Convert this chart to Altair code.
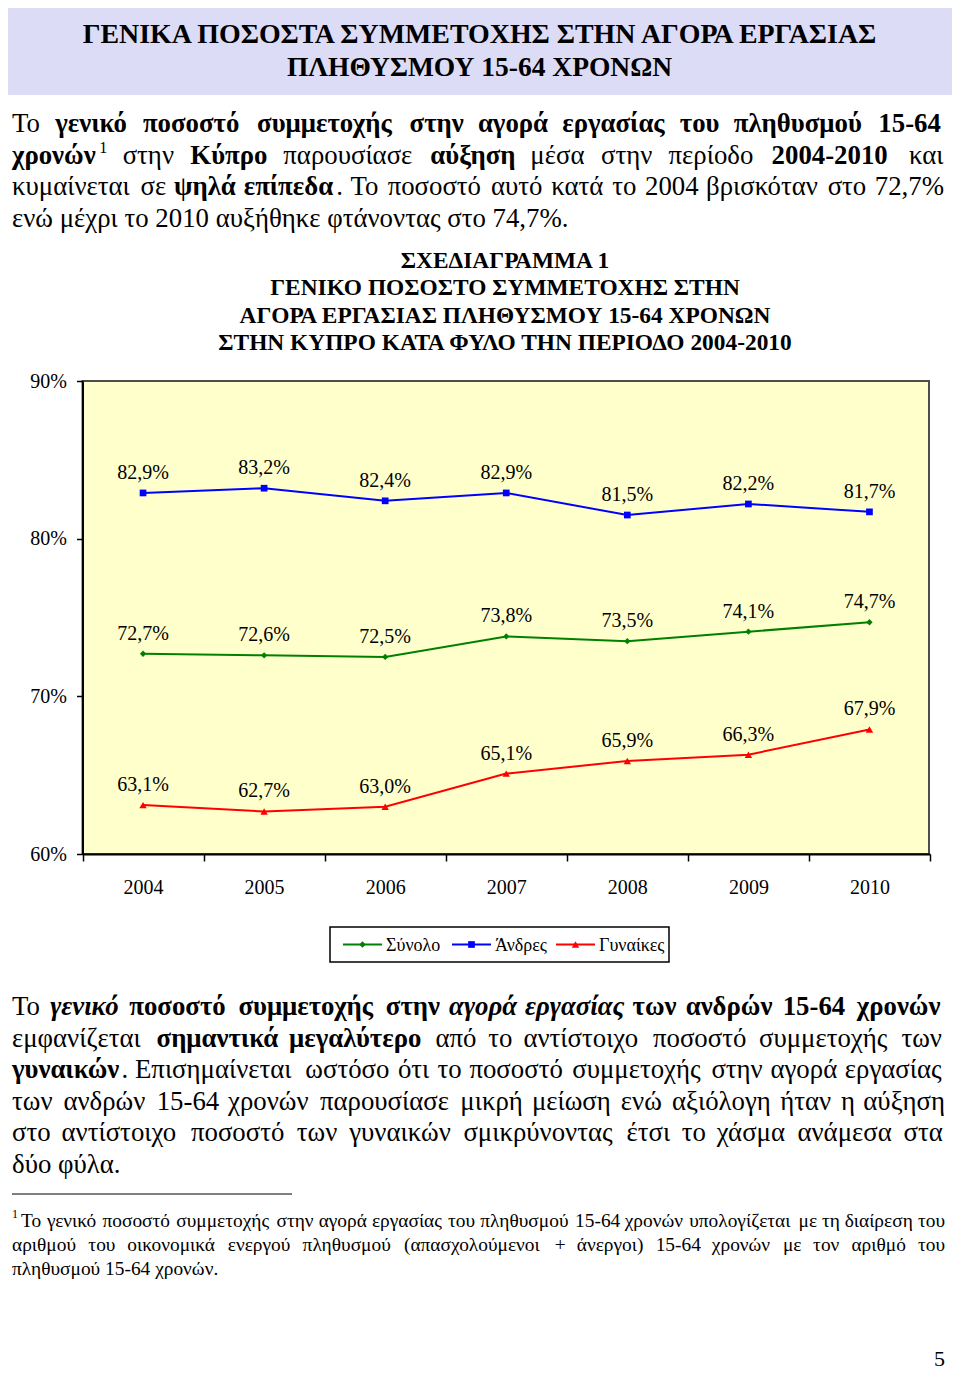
import unicodedata
import pandas as pd
import altair as alt

# ---------------- data ----------------
YEARS = ["2004", "2005", "2006", "2007", "2008", "2009", "2010"]
SERIES = ["Σύνολο", "Άνδρες", "Γυναίκες"]
TOTAL = [72.7, 72.6, 72.5, 73.8, 73.5, 74.1, 74.7]
MEN = [82.9, 83.2, 82.4, 82.9, 81.5, 82.2, 81.7]
WOMEN = [63.1, 62.7, 63.0, 65.1, 65.9, 66.3, 67.9]
Y_TICKS = [60, 70, 80, 90]

HEADER_LINES = ["ΓΕΝΙΚΑ ΠΟΣΟΣΤΑ ΣΥΜΜΕΤΟΧΗΣ ΣΤΗΝ ΑΓΟΡΑ ΕΡΓΑΣΙΑΣ",
                "ΠΛΗΘΥΣΜΟΥ 15-64 ΧΡΟΝΩΝ"]
CHART_TITLE = ["ΣΧΕΔΙΑΓΡΑΜΜΑ 1",
               "ΓΕΝΙΚΟ ΠΟΣΟΣΤΟ ΣΥΜΜΕΤΟΧΗΣ ΣΤΗΝ",
               "ΑΓΟΡΑ ΕΡΓΑΣΙΑΣ ΠΛΗΘΥΣΜΟΥ 15-64 ΧΡΟΝΩΝ",
               "ΣΤΗΝ ΚΥΠΡΟ ΚΑΤΑ ΦΥΛΟ ΤΗΝ ΠΕΡΙΟΔΟ 2004-2010"]

# text runs: (text, emphasis)  r = regular, b = bold, bi = bold italic, sup = superscript
PARA1 = [
    [("Το ", "r"), ("γενικό ποσοστό συμμετοχής στην αγορά εργασίας του πληθυσμού 15-64", "b")],
    [("χρονών", "b"), ("1", "sup"), (" στην ", "r"), ("Κύπρο", "b"), (" παρουσίασε ", "r"),
     ("αύξηση", "b"), (" μέσα στην περίοδο ", "r"), ("2004-2010", "b"), (" και", "r")],
    [("κυμαίνεται σε ", "r"), ("ψηλά επίπεδα", "b"),
     (". Το ποσοστό αυτό κατά το 2004 βρισκόταν στο 72,7%", "r")],
    [("ενώ μέχρι το 2010 αυξήθηκε φτάνοντας στο 74,7%.", "r")],
]
PARA2 = [
    [("Το ", "r"), ("γενικό", "bi"), (" ποσοστό συμμετοχής στην ", "b"), ("αγορά εργασίας", "bi"),
     (" των ανδρών 15-64 χρονών", "b")],
    [("εμφανίζεται ", "r"), ("σημαντικά μεγαλύτερο", "b"),
     (" από το αντίστοιχο ποσοστό συμμετοχής των", "r")],
    [("γυναικών", "b"), (". Επισημαίνεται ωστόσο ότι το ποσοστό συμμετοχής στην αγορά εργασίας", "r")],
    [("των ανδρών 15-64 χρονών παρουσίασε μικρή μείωση ενώ αξιόλογη ήταν η αύξηση", "r")],
    [("στο αντίστοιχο ποσοστό των γυναικών σμικρύνοντας έτσι το χάσμα ανάμεσα στα", "r")],
    [("δύο φύλα.", "r")],
]
FOOT_MARK = "1"
FOOTNOTE = [
    [("Το γενικό ποσοστό συμμετοχής στην αγορά εργασίας του πληθυσμού 15-64 χρονών υπολογίζεται με τη διαίρεση του", "r")],
    [("αριθμού του οικονομικά ενεργού πληθυσμού (απασχολούμενοι + άνεργοι) 15-64 χρονών με τον αριθμό του", "r")],
    [("πληθυσμού 15-64 χρονών.", "r")],
]
PAGE_NUMBER = "5"

# ---------------- layout ----------------
FONT = "Liberation Serif"
OX, OY = 8, 8
W, H = 944, 1365
K = 1.0

GREEK_W = {'α': .53, 'β': .50, 'γ': .46, 'δ': .50, 'ε': .43, 'ζ': .43, 'η': .50, 'θ': .50,
           'ι': .28, 'κ': .50, 'λ': .50, 'μ': .56, 'ν': .47, 'ξ': .44, 'ο': .50, 'π': .56,
           'ρ': .50, 'σ': .54, 'ς': .43, 'τ': .44, 'υ': .50, 'φ': .64, 'χ': .48, 'ψ': .68, 'ω': .68}
OTHER_W = {' ': .25, '.': .25, ',': .25, '%': .833, '-': .333, '(': .333, ')': .333, '+': .564}
UPPER_W = {'Ι': .33, 'Μ': .89, 'Τ': .61}
STYLE_F = {'r': 1.0, 'b': 1.05, 'bi': 1.0, 'sup': 1.0}


def char_w(c):
    b = unicodedata.normalize('NFD', c)[0]
    if b in GREEK_W:
        return GREEK_W[b]
    if b.isdigit():
        return .5
    if b in OTHER_W:
        return OTHER_W[b]
    if b.isupper():
        return UPPER_W.get(b, .70)
    return .5


def piece_size(style, size):
    return round(size * 0.6, 1) if style == "sup" else size


def text_w(s, style, size):
    return K * piece_size(style, size) * STYLE_F[style] * sum(char_w(c) for c in s)


rows = []


def add(x, y, t, fs, style, align="left"):
    rows.append({"x": x - OX, "y": y - OY, "t": t, "fs": fs, "style": style, "align": align})


def words_of(runs):
    words, cur = [], []
    for text, style in runs:
        parts = text.split(" ")
        for i, p in enumerate(parts):
            if i > 0 and cur:
                words.append(cur)
                cur = []
            if p:
                cur.append((p, style))
    if cur:
        words.append(cur)
    return words


def layout_line(runs, x0, x1, base, size, justify):
    words = words_of(runs)
    widths = [sum(text_w(p, s, size) for p, s in w) for w in words]
    if justify and len(words) > 1:
        gap = (x1 - x0 - sum(widths)) / (len(words) - 1)
    else:
        gap = K * size * 0.25
    if not justify:
        merged = []
        for w in words:
            for j, (p, s) in enumerate(w):
                if merged and merged[-1][1] == s and s != "sup":
                    merged[-1][0] += (" " if j == 0 else "") + p
                else:
                    merged.append([p, s, j == 0])
        x = x0
        for i, (p, s, _) in enumerate(merged):
            yb = base - 0.4 * size if s == "sup" else base
            add(x, yb, p, piece_size(s, size), "r" if s == "sup" else s)
            x += text_w(p, s, size)
            if i + 1 < len(merged) and merged[i + 1][2]:
                x += gap
        return
    x = x0
    for w, wd in zip(words, widths):
        xx = x
        for p, s in w:
            yb = base - 0.4 * size if s == "sup" else base
            add(xx, yb, p, piece_size(s, size), "r" if s == "sup" else s)
            xx += text_w(p, s, size)
        x += wd + gap


# header
for t, yb, fs in zip(HEADER_LINES, [43, 76], [27.9, 27.5]):
    add(479.5, yb, t, fs, "b", "center")
# chart title
for t, yb in zip(CHART_TITLE, [268, 295, 323, 350]):
    add(505, yb, t, 23.4, "b", "center")

PARA_SIZE = 26.8
for i, (runs, yb) in enumerate(zip(PARA1, [132, 163.5, 195, 226.5])):
    layout_line(runs, 12, 944, yb, PARA_SIZE, i < len(PARA1) - 1)
for i, (runs, yb) in enumerate(zip(PARA2, [1015, 1046.5, 1078, 1109.5, 1141, 1172.5])):
    layout_line(runs, 12, 944, yb, PARA_SIZE, i < len(PARA2) - 1)

FOOT_SIZE = 19.4
add(12, 1218, FOOT_MARK, 12, "r")
for i, (runs, yb) in enumerate(zip(FOOTNOTE, [1227, 1251, 1275])):
    layout_line(runs, 21 if i == 0 else 12, 946, yb, FOOT_SIZE, i < len(FOOTNOTE) - 1)

add(934, 1366, PAGE_NUMBER, 22, "r")

# legend labels (layout of the legend box)
LEG_LINE_X0 = [343, 452, 556]
LEG_LINE_LEN = 39
LEG_Y = 944.5
for s, x0 in zip(SERIES, LEG_LINE_X0):
    add(x0 + LEG_LINE_LEN + 4, LEG_Y + 6.5, s, 18, "r")

tdf = pd.DataFrame(rows)

STYLE_FONT = {"r": ("normal", "normal"), "b": ("bold", "normal"), "bi": ("bold", "italic")}
text_layers = []
for (style, align), g in tdf.groupby(["style", "align"]):
    fw, fst = STYLE_FONT[style]
    text_layers.append(
        alt.Chart(g.reset_index(drop=True)).mark_text(
            font=FONT, fontWeight=fw, fontStyle=fst, align=align, baseline="alphabetic", color="black"
        ).encode(
            x=alt.X("x:Q", scale=None, axis=None),
            y=alt.Y("y:Q", scale=None, axis=None),
            size=alt.Size("fs:Q", scale=None, legend=None),
            text=alt.Text("t:N"),
        )
    )

one = pd.DataFrame({"k": [0]})
header_bg = alt.Chart(one).mark_rect(color="#dcdcf7").encode(
    x=alt.value(0), x2=alt.value(957 - OX), y=alt.value(0), y2=alt.value(95 - OY))
plot_bg = alt.Chart(one).mark_rect(fill="#FFFFCC", stroke="#4d4d4d", strokeWidth=2).encode(
    x=alt.value(82.5 - OX), x2=alt.value(929 - OX), y=alt.value(381 - OY), y2=alt.value(854 - OY))
foot_rule = alt.Chart(one).mark_rule(color="black", strokeWidth=1).encode(
    x=alt.value(12 - OX), x2=alt.value(292 - OX), y=alt.value(1194 - OY))

# ---------------- line chart ----------------
recs = []
for s, vals in zip(SERIES, [TOTAL, MEN, WOMEN]):
    for yr, v in zip(YEARS, vals):
        recs.append({"year": yr, "series": s, "value": v,
                     "label": f"{v:.1f}".replace(".", ",") + "%"})
df = pd.DataFrame(recs)

COLORS = ["#008000", "#0000FF", "#FF0000"]
x_enc = alt.X(
    "year:N", sort=YEARS,
    scale=alt.Scale(type="band", domain=YEARS, range=[82.5 - OX, 930 - OX], paddingInner=0, paddingOuter=0),
    axis=alt.Axis(orient="bottom", offset=(854 - OY) - H, tickBand="extent", tickSize=7, tickWidth=1.5,
                  tickColor="black", domainColor="black", domainWidth=2, labelFont=FONT, labelFontSize=20,
                  labelColor="black", labelPadding=16, labelAngle=0, title=None, grid=False, zindex=1),
)
y_enc = alt.Y(
    "value:Q",
    scale=alt.Scale(domain=[60, 90], range=[854 - OY, 381 - OY], zero=False, nice=False),
    axis=alt.Axis(orient="left", offset=-(82.5 - OX), values=Y_TICKS, labelExpr="datum.value + '%'",
                  tickSize=6, tickWidth=1.5, tickColor="black", domainColor="black", domainWidth=2,
                  labelFont=FONT, labelFontSize=20, labelColor="black", labelPadding=10,
                  title=None, grid=False, zindex=1),
)
c_scale = alt.Scale(domain=SERIES, range=COLORS)
c_enc = alt.Color("series:N", scale=c_scale, legend=None)

base = alt.Chart(df).encode(x=x_enc, y=y_enc)
lines = base.mark_line(strokeWidth=2).encode(color=c_enc, detail="series:N")
SHAPES = {"Σύνολο": ("diamond", 40), "Άνδρες": ("square", 45), "Γυναίκες": ("triangle-up", 55)}
points = [
    base.transform_filter(alt.datum.series == s).mark_point(
        shape=SHAPES[s][0], size=SHAPES[s][1], filled=True, opacity=1).encode(color=c_enc)
    for s in SERIES
]
labels = base.mark_text(dy=-20, font=FONT, fontSize=20, baseline="middle", color="black").encode(
    text="label:N")

# ---------------- legend (drawn as a keyed box) ----------------
leg_df = pd.DataFrame({
    "series": SERIES,
    "x0": [x - OX for x in LEG_LINE_X0],
    "x1": [x + LEG_LINE_LEN - OX for x in LEG_LINE_X0],
    "xm": [x + LEG_LINE_LEN / 2 - OX for x in LEG_LINE_X0],
})
leg_box = alt.Chart(one).mark_rect(fill="white", stroke="black", strokeWidth=1.5).encode(
    x=alt.value(330 - OX), x2=alt.value(669 - OX), y=alt.value(927 - OY), y2=alt.value(962 - OY))
leg_lines = alt.Chart(leg_df).mark_rule(strokeWidth=2).encode(
    x=alt.X("x0:Q", scale=None, axis=None), x2="x1:Q", y=alt.value(LEG_Y - OY), color=c_enc)
leg_points = [
    alt.Chart(leg_df).transform_filter(alt.datum.series == s).mark_point(
        shape=SHAPES[s][0], size=SHAPES[s][1], filled=True, opacity=1).encode(
        x=alt.X("xm:Q", scale=None, axis=None), y=alt.value(LEG_Y - OY), color=c_enc)
    for s in SERIES
]

chart = alt.layer(
    header_bg, plot_bg, lines, *points, labels, leg_box, leg_lines, *leg_points, foot_rule, *text_layers
).properties(
    width=W, height=H, padding=0, autosize=alt.AutoSizeParams(type="none")
).configure_view(stroke=None)

chart.save("out.html", embed_options={"renderer": "svg", "actions": False})
